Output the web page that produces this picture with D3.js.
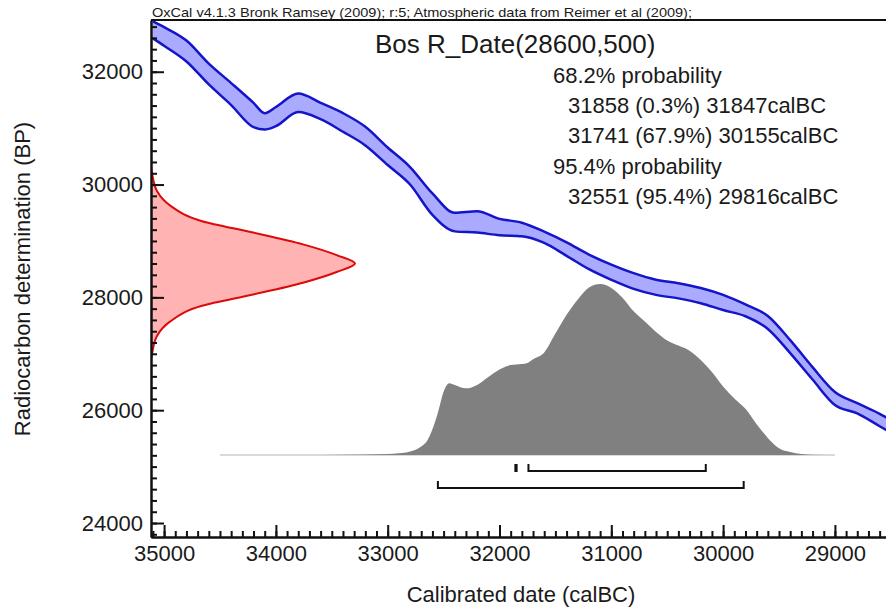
<!DOCTYPE html>
<html>
<head>
  <meta charset="utf-8">
  <title>Bos R_Date</title>
  <script src="https://d3js.org/d3.v7.min.js"></script>
  <style>
    body { margin: 0; background: #fff; }
    text { font-family: "Liberation Sans", Arial, sans-serif; fill: #1a1a1a; }
  </style>
</head>
<body>
<script>
  // calibration curve band (mean +/- sigma)
  const curveCal = [35100, 35000, 34800, 34600, 34400, 34200, 34100, 34000, 33800, 33600,
                    33400, 33200, 33000, 32800, 32600, 32400, 32200, 32000, 31800, 31600,
                    31400, 31200, 31000, 30800, 30600, 30400, 30200, 30000, 29800, 29600,
                    29400, 29200, 29000, 28800, 28600, 28400];
  const curveBP = [32741, 32625, 32367, 31959, 31604, 31233, 31121, 31205, 31449, 31303,
                   31101, 30859, 30501, 30156, 29653, 29335, 29338, 29247, 29204, 29065,
                   28856, 28629, 28446, 28290, 28179, 28117, 28032, 27910, 27770, 27555,
                   27127, 26653, 26207, 26034, 25826, 25600];
  const curveSigma = [150, 165, 185, 185, 195, 215, 145, 170, 165, 145,
                      165, 165, 155, 155, 190, 165, 190, 145, 120, 100,
                      120, 130, 135, 140, 135, 135, 135, 135, 105, 115,
                      115, 110, 115, 90, 110, 110];

  // radiocarbon measurement 28600 +/- 500 (red, along the y axis)
  const measBP = [30300, 30200, 29880, 29630, 29350, 29150, 28940, 28750, 28600,
                  28450, 28260, 28050, 27850, 27570, 27320, 27000, 26900];
  const measProb = [0, 0.005, 0.03, 0.093, 0.25, 0.5, 0.745, 0.91, 1,
                    0.91, 0.745, 0.5, 0.25, 0.093, 0.03, 0.005, 0];

  // calibrated distribution (grey)
  const postCal = [34500, 33600, 33200, 33000, 32900, 32800, 32700, 32650, 32600, 32550,
                   32500, 32450, 32400, 32300, 32200, 32100, 32000, 31900, 31800, 31750,
                   31700, 31600, 31500, 31400, 31300, 31200, 31100, 31000, 30900, 30800,
                   30700, 30600, 30500, 30400, 30300, 30200, 30100, 30000, 29900, 29800,
                   29700, 29600, 29500, 29400, 29300, 29200, 29000];
  const postProb = [0, 0, 0.003, 0.006, 0.01, 0.02, 0.05, 0.08, 0.15, 0.25,
                    0.37, 0.42, 0.41, 0.39, 0.41, 0.456, 0.5, 0.526, 0.532, 0.538,
                    0.56, 0.6, 0.71, 0.82, 0.91, 0.98, 1, 0.977, 0.92, 0.84,
                    0.78, 0.72, 0.67, 0.64, 0.61, 0.556, 0.485, 0.4, 0.33, 0.27,
                    0.18, 0.1, 0.04, 0.018, 0.006, 0.002, 0];

  // hpd ranges
  const range68 = [[31858, 31847], [31741, 30155]];
  const range95 = [[32551, 29816]];

  const xMajor = [35000, 34000, 33000, 32000, 31000, 30000, 29000];
  const yMajor = [24000, 26000, 28000, 30000, 32000];

  const header = "OxCal v4.1.3 Bronk Ramsey (2009); r:5; Atmospheric data from Reimer et al (2009);";
  const title = "Bos R_Date(28600,500)";
  const probText = [
    ["68.2% probability", 0],
    ["31858 (0.3%) 31847calBC", 1],
    ["31741 (67.9%) 30155calBC", 1],
    ["95.4% probability", 0],
    ["32551 (95.4%) 29816calBC", 1]
  ];

  const width = 886, height = 615;

  const x = d3.scaleLinear().domain([35117, 28400]).range([151, 902]);
  const y = d3.scaleLinear().domain([23752, 32917]).range([537, 20]);
  const pRed = d3.scaleLinear().domain([0, 1]).range([151, 355]);
  const pGrey = d3.scaleLinear().domain([0, 1]).range([455, 284]);

  const svg = d3.select("body").append("svg")
    .attr("width", width)
    .attr("height", height)
    .style("background", "#fff");

  svg.append("clipPath").attr("id", "plot")
    .append("rect")
    .attr("x", 151).attr("y", 20)
    .attr("width", 751).attr("height", 517);

  const plot = svg.append("g").attr("clip-path", "url(#plot)");

  // calibration curve band
  const band = curveCal.map((c, i) => ({ c: c, bp: curveBP[i], s: curveSigma[i] }));
  plot.append("path")
    .datum(band)
    .attr("fill", "#aaaaff")
    .attr("d", d3.area()
      .curve(d3.curveMonotoneX)
      .x(d => x(d.c))
      .y0(d => y(d.bp - d.s))
      .y1(d => y(d.bp + d.s)));
  [1, -1].forEach(k => {
    plot.append("path")
      .datum(band)
      .attr("fill", "none")
      .attr("stroke", "#1414c8")
      .attr("stroke-width", 2.5)
      .attr("d", d3.line()
        .curve(d3.curveMonotoneX)
        .x(d => x(d.c))
        .y(d => y(d.bp + k * d.s)));
  });

  // radiocarbon date
  const meas = measBP.map((b, i) => ({ bp: b, p: measProb[i] }));
  plot.append("path")
    .datum(meas)
    .attr("fill", "#ffb3b3")
    .attr("stroke", "#dd0a0a")
    .attr("stroke-width", 2)
    .attr("d", d3.area()
      .curve(d3.curveMonotoneY)
      .y(d => y(d.bp))
      .x0(pRed(0))
      .x1(d => pRed(d.p)));

  // calibrated distribution
  const post = postCal.map((c, i) => ({ c: c, p: postProb[i] }));
  plot.append("line")
    .attr("x1", x(postCal[0])).attr("x2", x(postCal[postCal.length - 1]))
    .attr("y1", pGrey(0)).attr("y2", pGrey(0))
    .attr("stroke", "#b4b4b4")
    .attr("stroke-width", 1);
  plot.append("path")
    .datum(post)
    .attr("fill", "#808080")
    .attr("d", d3.area()
      .curve(d3.curveMonotoneX)
      .x(d => x(d.c))
      .y0(pGrey(0))
      .y1(d => pGrey(d.p)));

  // range brackets
  function bracket(ranges, yy) {
    plot.selectAll(null)
      .data(ranges)
      .enter()
      .append("path")
      .attr("fill", "none")
      .attr("stroke", "#111")
      .attr("stroke-width", 2)
      .attr("d", d => "M" + x(d[0]) + "," + (yy - 7) + "V" + yy + "H" + x(d[1]) + "V" + (yy - 7));
  }
  bracket(range68, 471);
  bracket(range95, 488);

  // axes
  const xAxis = svg.append("g").attr("transform", "translate(0,537)");
  xAxis.call(d3.axisBottom(x)
    .tickValues(d3.range(35100, 28400, -100))
    .tickFormat("")
    .tickSize(-6)
    .tickSizeOuter(0));
  xAxis.append("g").call(d3.axisBottom(x)
    .tickValues(xMajor)
    .tickFormat(d3.format("d"))
    .tickSize(-12)
    .tickPadding(8)
    .tickSizeOuter(0));

  const yAxis = svg.append("g").attr("transform", "translate(151,0)");
  yAxis.call(d3.axisLeft(y)
    .tickValues(d3.range(23800, 32917, 200))
    .tickFormat("")
    .tickSize(-6)
    .tickSizeOuter(0));
  yAxis.append("g").call(d3.axisLeft(y)
    .tickValues(yMajor)
    .tickFormat(d3.format("d"))
    .tickSize(-13)
    .tickPadding(8)
    .tickSizeOuter(0));

  svg.selectAll(".domain").attr("stroke", "#111").attr("stroke-width", 2);
  svg.selectAll(".tick line").attr("stroke", "#111").attr("stroke-width", 2);
  svg.selectAll(".tick text")
    .attr("font-size", 22)
    .attr("font-family", "Liberation Sans, Arial, sans-serif")
    .attr("fill", "#1a1a1a");

  // top frame
  svg.append("line")
    .attr("x1", 151).attr("x2", 902)
    .attr("y1", 20).attr("y2", 20)
    .attr("stroke", "#111").attr("stroke-width", 2);

  // texts
  svg.append("text")
    .attr("x", 152).attr("y", 17)
    .attr("font-size", 13)
    .attr("textLength", 540)
    .attr("lengthAdjust", "spacingAndGlyphs")
    .text(header);

  svg.append("text")
    .attr("x", 375).attr("y", 53)
    .attr("font-size", 26)
    .text(title);

  svg.selectAll(".prob")
    .data(probText)
    .enter()
    .append("text")
    .attr("class", "prob")
    .attr("x", d => d[1] ? 568 : 553)
    .attr("y", (d, i) => 83 + i * 30.2)
    .attr("font-size", 22)
    .text(d => d[0]);

  svg.append("text")
    .attr("x", 521).attr("y", 602)
    .attr("text-anchor", "middle")
    .attr("font-size", 22)
    .text("Calibrated date (calBC)");

  svg.append("text")
    .attr("transform", "translate(30,279) rotate(-90)")
    .attr("text-anchor", "middle")
    .attr("font-size", 22)
    .text("Radiocarbon determination (BP)");
</script>
</body>
</html>
